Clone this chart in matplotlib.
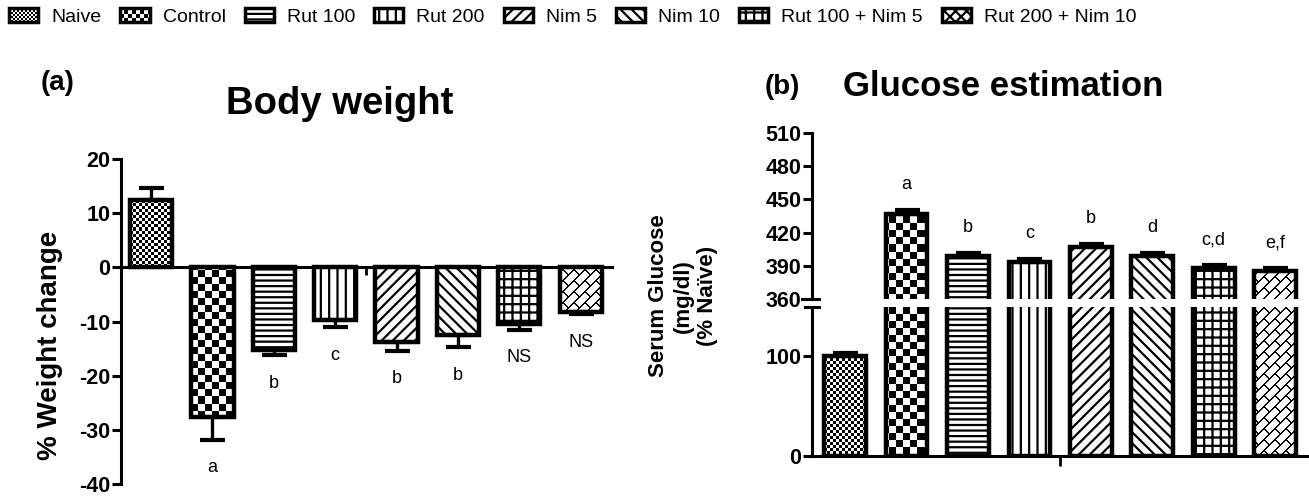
import numpy as np
import matplotlib
matplotlib.use('Agg')
import matplotlib.pyplot as plt
from matplotlib.patches import Patch, Rectangle
from matplotlib.legend_handler import HandlerBase

groups = ['Naive', 'Control', 'Rut 100', 'Rut 200', 'Nim 5', 'Nim 10',
          'Rut 100 + Nim 5', 'Rut 200 + Nim 10']
fills = ['fine', 'coarse', '---', '||', '///', '\\\\\\', '++', 'brick']

weight = [12.5, -27.7, -15.3, -9.7, -13.7, -12.5, -10.5, -8.3]
weight_err = [2.2, 4.1, 0.9, 1.3, 1.7, 2.2, 1.0, 0.4]
weight_sig = ['', 'a', 'b', 'c', 'b', 'b', 'NS', 'NS']

glucose = [100, 437, 399, 393.5, 407, 399, 388, 385]
glucose_err = [3, 3.5, 2.5, 3, 3, 2.5, 2.5, 3]
glucose_sig = ['', 'a', 'b', 'c', 'b', 'd', 'c,d', 'e,f']

plt.rcParams['font.family'] = 'Liberation Sans'
plt.rcParams['hatch.linewidth'] = 1.6
plt.rcParams['axes.unicode_minus'] = False

W, H = 1309, 496
fig = plt.figure(figsize=(W / 100, H / 100), dpi=100)


def px_axes(l, t, r, b):
    return fig.add_axes([l / W, 1 - b / H, (r - l) / W, (b - t) / H])


def texture(kind, w, h):
    r, c = np.mgrid[0:h, 0:w]
    if kind == 'fine':
        return ((r // 3 + c // 3) % 2).astype(float)
    if kind == 'coarse':
        return ((r // 7 + c // 7) % 2).astype(float)
    # diagonal brick
    P = 11
    s = r + c
    k = s // P
    band = (s % P) < 2
    seg = ((c - r + (k % 2) * P) % (2 * P)) < 2
    return (band | seg).astype(float)


def draw_bars(ax, x, vals, width, axw, axh):
    x0, x1 = ax.get_xlim()
    y0, y1 = ax.get_ylim()
    for xi, v, f in zip(x, vals, fills):
        if f in ('fine', 'coarse', 'brick'):
            bar = ax.bar(xi, v, width, facecolor='none', edgecolor='k',
                         linewidth=3.2, zorder=3)[0]
            im = ax.imshow(texture(f, axw, axh), cmap='gray_r', vmin=0, vmax=1,
                           extent=(x0, x1, y0, y1), aspect='auto',
                           interpolation='nearest', zorder=2)
            im.set_clip_path(bar)
        else:
            ax.bar(xi, v, width, facecolor='white', edgecolor='k',
                   hatch=f, linewidth=3.2, zorder=3)
    ax.set_xlim(x0, x1)
    ax.set_ylim(y0, y1)


def draw_err(ax, x, vals, errs):
    for xi, v, e in zip(x, vals, errs):
        yerr = [[0], [e]] if v > 0 else [[e], [0]]
        ax.errorbar(xi, v, yerr=yerr, fmt='none', ecolor='k', elinewidth=2.4,
                    capsize=9, capthick=3, zorder=4)


def style(ax):
    for s in ax.spines.values():
        s.set_linewidth(2.2)
    ax.tick_params(axis='y', length=6.5, width=2.2, pad=1, labelsize=15.5)
    for lab in ax.get_yticklabels():
        lab.set_fontweight('bold')


x = np.arange(len(groups))

# ---- panel (a) body weight
axA = px_axes(121, 159, 612, 484)
axA.set_xlim(-0.49, 7.51)
axA.set_ylim(-40, 20)
draw_bars(axA, x, weight, 0.69, 491, 325)
draw_err(axA, x, weight, weight_err)
axA.spines['top'].set_visible(False)
axA.spines['right'].set_visible(False)
axA.spines['bottom'].set_position(('data', 0))
axA.set_yticks([-40, -30, -20, -10, 0, 10, 20])
axA.set_xticks([3.5])
axA.set_xticklabels([''])
axA.tick_params(axis='x', length=6, width=2, direction='out')
style(axA)
for xi, v, e, s in zip(x, weight, weight_err, weight_sig):
    if s:
        axA.text(xi, v - e - 5.2, s, ha='center', va='center', fontsize=13)

fig.text(58 / W, 1 - 83 / H, '(a)', fontsize=20, fontweight='bold',
         ha='center', va='center')
fig.text(340 / W, 1 - 104 / H, 'Body weight', fontsize=27.5, fontweight='bold',
         ha='center', va='center')
fig.text(50 / W, 1 - 345 / H, '% Weight change', fontsize=20,
         fontweight='bold', rotation=90, ha='center', va='center')

# ---- panel (b) glucose, broken axis
axBt = px_axes(812, 133, 1307, 299)
axBb = px_axes(812, 307, 1307, 456)
axBt.set_xlim(-0.54, 7.52)
axBt.set_ylim(360, 510)
axBb.set_xlim(-0.54, 7.52)
axBb.set_ylim(0, 149)
draw_bars(axBt, x, glucose, 0.68, 495, 166)
draw_bars(axBb, x, glucose, 0.68, 495, 149)
draw_err(axBt, x, glucose, glucose_err)
draw_err(axBb, x, glucose, glucose_err)

for s in ['top', 'right', 'bottom']:
    axBt.spines[s].set_visible(False)
axBt.set_xticks([])
axBt.set_yticks([360, 390, 420, 450, 480, 510])
style(axBt)

for s in ['top', 'right']:
    axBb.spines[s].set_visible(False)
axBb.set_yticks([0, 100])
axBb.set_xticks([3.5])
axBb.set_xticklabels([''])
axBb.tick_params(axis='x', length=7, width=2, direction='out')
style(axBb)

# break marks on the y axis
axBt.plot([-10 / 495, 7 / 495], [0, 0], transform=axBt.transAxes,
          color='k', lw=2.2, clip_on=False)
axBb.plot([-7 / 495, 7 / 495], [1, 1], transform=axBb.transAxes,
          color='k', lw=2.2, clip_on=False)

for xi, v, e, s in zip(x, glucose, glucose_err, glucose_sig):
    if s:
        axBt.text(xi, v + e + 23, s, ha='center', va='center', fontsize=13)

fig.text(782 / W, 1 - 87 / H, '(b)', fontsize=20, fontweight='bold',
         ha='center', va='center')
fig.text(1003 / W, 1 - 86 / H, 'Glucose estimation', fontsize=25,
         fontweight='bold', ha='center', va='center')
fig.text(683 / W, 1 - 296 / H, 'Serum Glucose\n(mg/dl)\n(% Naïve)',
         fontsize=16, fontweight='bold', rotation=90, ha='center',
         va='center', multialignment='center', linespacing=1.2)


# ---- legend
class CheckerHandler(HandlerBase):
    def __init__(self, cell):
        super().__init__()
        self.cell = cell

    def create_artists(self, legend, orig_handle, xdescent, ydescent,
                       width, height, fontsize, trans):
        x0, y0 = -xdescent, -ydescent
        step = self.cell * 72 / fig.dpi
        arts = [Rectangle((x0, y0), width, height, fc='white', ec='none',
                          transform=trans)]
        nx = int(np.ceil(width / step))
        ny = int(np.ceil(height / step))
        for i in range(nx):
            for j in range(ny):
                if (i + j) % 2:
                    cw = min(step, width - i * step)
                    ch = min(step, height - j * step)
                    arts.append(Rectangle((x0 + i * step, y0 + j * step), cw, ch,
                                          fc='k', ec='none', transform=trans))
        arts.append(Rectangle((x0, y0), width, height, fc='none', ec='k',
                              lw=2.5, transform=trans))
        return arts


handles = []
handler_map = {}
for g, f in zip(groups, fills):
    if f in ('fine', 'coarse'):
        h = Patch(facecolor='white', edgecolor='k', label=g)
        handler_map[h] = CheckerHandler(2 if f == 'fine' else 4)
    elif f == 'brick':
        h = Patch(facecolor='white', edgecolor='k', hatch='xxx', lw=2.5, label=g)
    else:
        h = Patch(facecolor='white', edgecolor='k', hatch=f, lw=2.5, label=g)
    handles.append(h)

fig.legend(handles=handles, handler_map=handler_map, loc='upper left',
           bbox_to_anchor=(9 / W, 1 - 8 / H), ncol=8, frameon=False,
           fontsize=14, handlelength=1.5, handleheight=0.72,
           handletextpad=0.67, columnspacing=0.98, borderpad=0,
           borderaxespad=0)

fig.savefig('out.png', dpi=100)
